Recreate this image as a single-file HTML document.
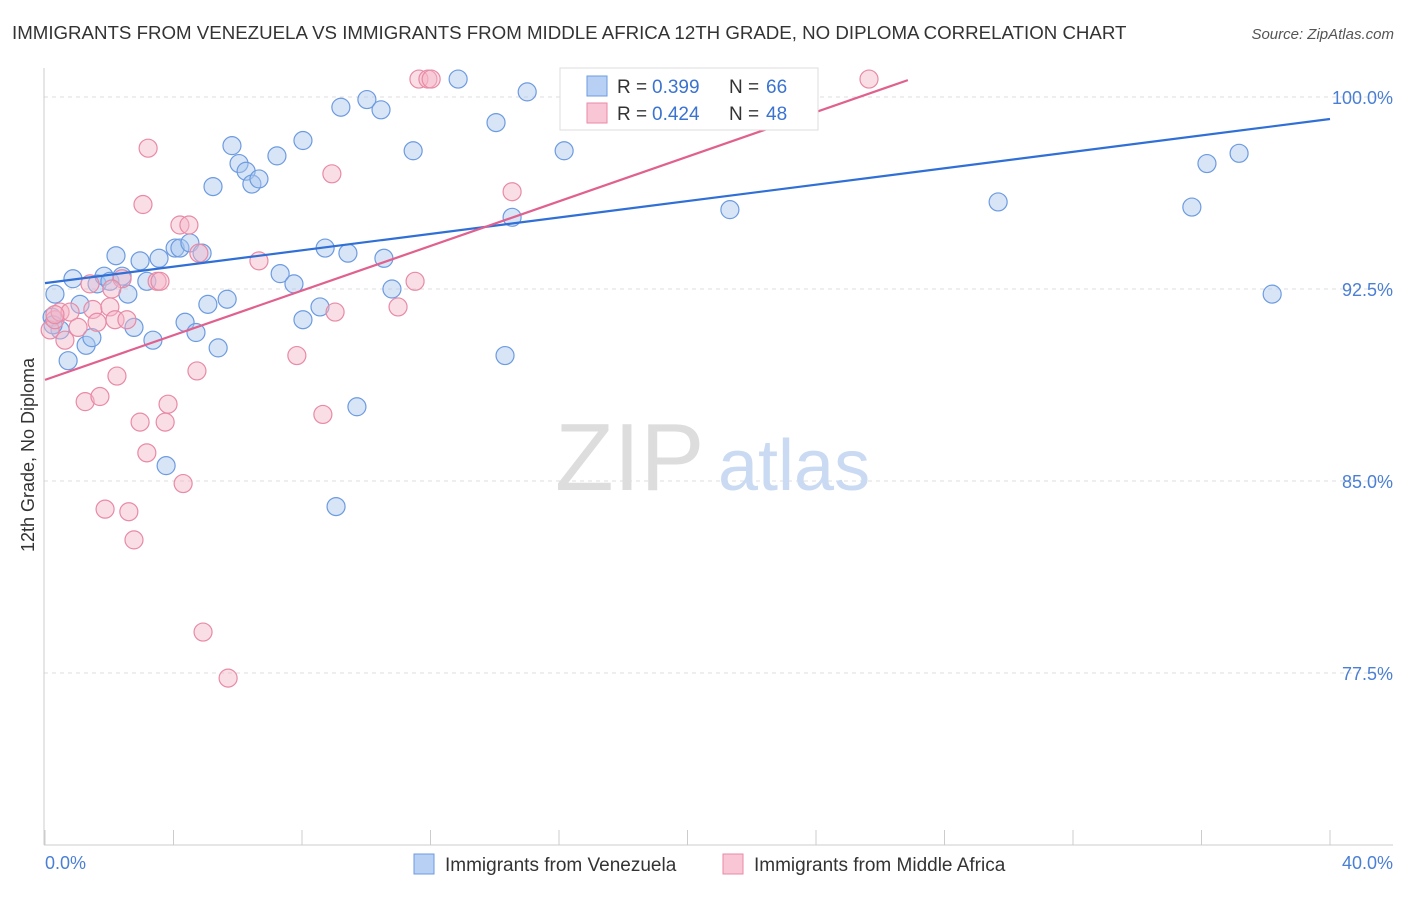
<!DOCTYPE html>
<html><head><meta charset="utf-8"><style>
body{margin:0;background:#fff;font-family:"Liberation Sans",sans-serif;}
svg text{font-family:"Liberation Sans",sans-serif;}
</style></head><body>
<svg id="chart" width="1406" height="892" xmlns="http://www.w3.org/2000/svg">
<text x="12" y="39" font-size="18.7" fill="#333">IMMIGRANTS FROM VENEZUELA VS IMMIGRANTS FROM MIDDLE AFRICA 12TH GRADE, NO DIPLOMA CORRELATION CHART</text>
<text x="1394" y="39" font-size="15" fill="#555" font-style="italic" text-anchor="end">Source: ZipAtlas.com</text>
<g id="grid"></g>
<text x="555" y="490" font-size="96" fill="#ddd" font-family="Liberation Serif">ZIP</text>
<text x="718" y="490" font-size="72" fill="#c9daf2">atlas</text>
<line x1="44" y1="68" x2="44" y2="845" stroke="#ccc"/>
<line x1="44" y1="845" x2="1393" y2="845" stroke="#ccc"/>
<g id="ticks"></g>
<g id="pts"></g>
<g id="trend"></g>
<text x="34" y="455" font-size="18" fill="#333" text-anchor="middle" transform="rotate(-90 34 455)">12th Grade, No Diploma</text>
<text x="45" y="869" font-size="18" fill="#4a7fd4">0.0%</text>
<text x="1393" y="869" font-size="18" fill="#4a7fd4" text-anchor="end">40.0%</text>
<g>
<rect x="560" y="68" width="258" height="62" fill="#fff" stroke="#ddd"/>
<rect x="587" y="76" width="20" height="20" fill="#b7d0f3" stroke="#6d9be0"/>
<rect x="587" y="103" width="20" height="20" fill="#f8c6d5" stroke="#e88aa6"/>
<text x="617" y="93" font-size="19" fill="#333">R =</text>
<text x="652" y="93" font-size="19" fill="#3b73d0">0.399</text>
<text x="729" y="93" font-size="19" fill="#333">N =</text>
<text x="766" y="93" font-size="19" fill="#3b73d0">66</text>
<text x="617" y="120" font-size="19" fill="#333">R =</text>
<text x="652" y="120" font-size="19" fill="#3b73d0">0.424</text>
<text x="729" y="120" font-size="19" fill="#333">N =</text>
<text x="766" y="120" font-size="19" fill="#3b73d0">48</text>
</g>
<g>
<rect x="414" y="854" width="20" height="20" fill="#b7d0f3" stroke="#6d9be0"/>
<text x="445" y="871" font-size="19" fill="#333">Immigrants from Venezuela</text>
<rect x="723" y="854" width="20" height="20" fill="#f8c6d5" stroke="#e88aa6"/>
<text x="754" y="871" font-size="19" fill="#333">Immigrants from Middle Africa</text>
</g>
</svg>
<script>
const yTicks=[100,92.5,85,77.5];
const yTickLabels=["100.0%","92.5%","85.0%","77.5%"];
const xTicks=[0,4,8,12,16,20,24,28,32,36,40];
const blueX=[0.31,0.22,0.47,0.72,0.87,1.09,1.28,1.46,1.62,1.84,2.02,2.21,2.40,2.58,2.77,2.96,3.17,3.36,3.55,3.77,4.05,4.20,4.36,4.51,4.70,4.89,5.07,5.23,5.39,5.67,5.82,6.04,6.26,6.44,6.66,7.22,7.32,7.75,8.03,8.03,8.56,8.72,9.06,9.21,9.43,9.71,10.02,10.46,10.55,10.80,11.46,12.86,14.04,14.32,14.54,15.01,16.16,17.28,21.32,21.95,29.67,35.70,36.17,37.17,38.20,0.25];
const blueY=[92.3,91.4,90.9,89.7,92.9,91.9,90.3,90.6,92.7,93.0,92.8,93.8,93.0,92.3,91.0,93.6,92.8,90.5,93.7,85.6,94.1,94.1,91.2,94.3,90.8,93.9,91.9,96.5,90.2,92.1,98.1,97.4,97.1,96.6,96.8,97.7,93.1,92.7,98.3,91.3,91.8,94.1,84.0,99.6,93.9,87.9,99.9,99.5,93.7,92.5,97.9,100.7,99.0,89.9,95.3,100.2,97.9,100.7,95.6,100.7,95.9,95.7,97.4,97.8,92.3,91.1];
const pinkX=[0.16,0.31,0.47,0.62,0.78,1.03,1.25,1.40,1.49,1.62,1.71,1.87,2.02,2.18,2.24,2.40,2.55,2.61,2.77,2.96,3.05,3.17,3.21,3.49,3.74,3.83,4.20,4.30,4.48,4.73,4.79,4.92,5.70,6.66,7.84,8.65,8.93,9.03,10.99,11.52,11.64,11.92,12.02,14.54,25.65,0.31,3.58,2.08];
const pinkY=[90.9,91.3,91.6,90.5,91.6,91.0,88.1,92.7,91.7,91.2,88.3,83.9,91.8,91.3,89.1,92.9,91.3,83.8,82.7,87.3,95.8,86.1,98.0,92.8,87.3,88.0,95.0,84.9,95.0,89.3,93.9,79.1,77.3,93.6,89.9,87.6,97.0,91.6,91.8,92.8,100.7,100.7,100.7,96.3,100.7,91.5,92.8,92.5];
const blueTrend=[[0,92.73],[40,99.14]];
const pinkTrend=[[0,88.95],[26.86,100.66]];
const NS="http://www.w3.org/2000/svg";
const sx=v=>45+v*32.125, sy=v=>97+(100-v)*25.6;
function mk(tag,attrs,parent){const e=document.createElementNS(NS,tag);for(const k in attrs)e.setAttribute(k,attrs[k]);parent.appendChild(e);return e;}
const grid=document.getElementById('grid');
yTicks.forEach((t,i)=>{
 const l=mk('line',{x1:44,x2:1393,y1:sy(t),y2:sy(t),stroke:'#ddd','stroke-dasharray':'4,4'},grid);
 
 
 const tx=mk('text',{x:1393,y:sy(t)+7,'font-size':18,fill:'#4a7fd4','text-anchor':'end'},grid);
 tx.textContent=yTickLabels[i];
 
 
});
const tk=document.getElementById('ticks');
xTicks.forEach(t=>{
 const l=mk('line',{x1:sx(t),x2:sx(t),y1:830,y2:845,stroke:'#ccc'},tk);
 
 
});
const pts=document.getElementById('pts');
function series(xs,ys,fill,stroke,name){
 xs.forEach((x,i)=>{
  const c=mk('circle',{cx:sx(x),cy:sy(ys[i]),r:9,fill:fill,'fill-opacity':0.45,stroke:stroke,'stroke-width':1.2},pts);
  
  
 });
}
series(blueX,blueY,'#a7c5ee','#6d9be0','venezuela-point');
series(pinkX,pinkY,'#f4b6c8','#e88aa6','middle-africa-point');
const tr=document.getElementById('trend');
const bl=mk('line',{x1:sx(blueTrend[0][0]),y1:sy(blueTrend[0][1]),x2:sx(blueTrend[1][0]),y2:sy(blueTrend[1][1]),stroke:'#2f6fd6','stroke-width':2.2},tr);


const pl=mk('line',{x1:sx(pinkTrend[0][0]),y1:sy(pinkTrend[0][1]),x2:sx(pinkTrend[1][0]),y2:sy(pinkTrend[1][1]),stroke:'#e0608e','stroke-width':2.2},tr);


</script>
</body></html>
